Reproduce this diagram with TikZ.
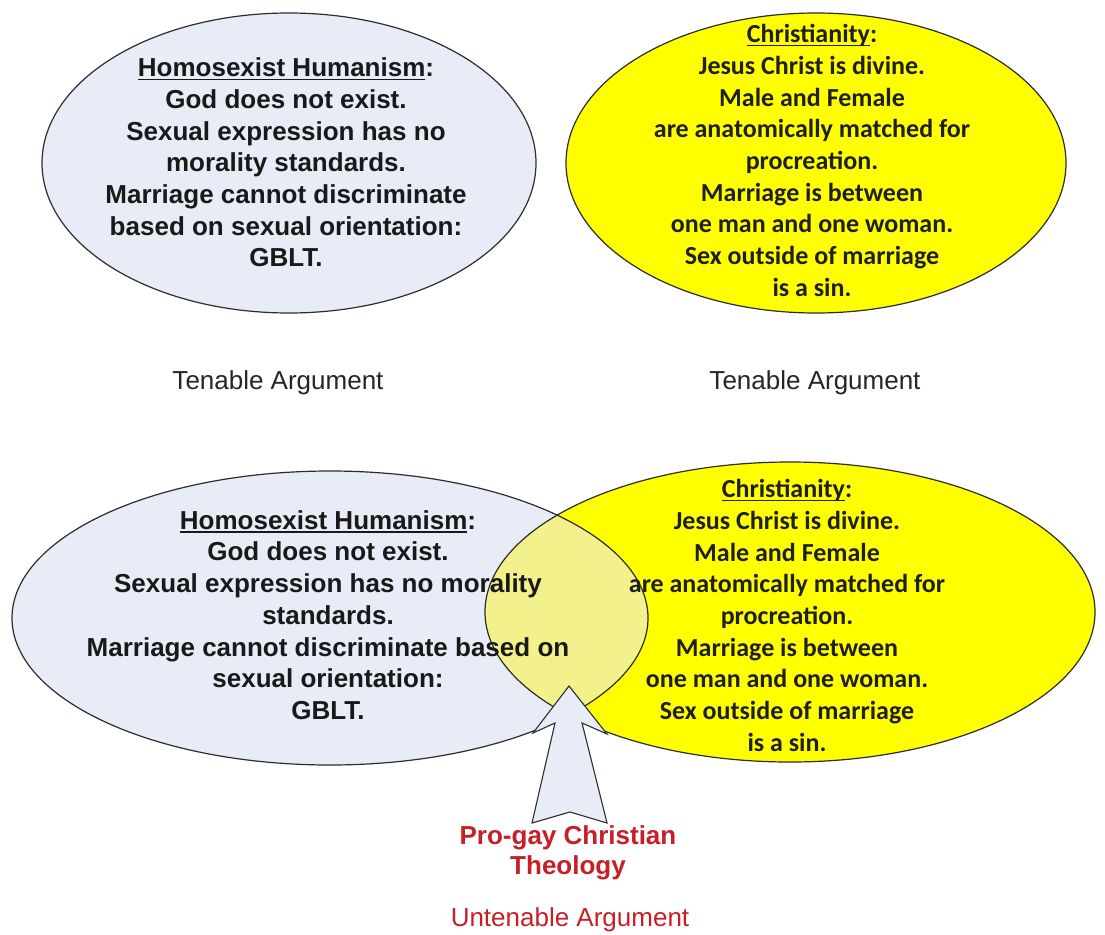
\documentclass[tikz,border=0pt]{standalone}
\usepackage{fontspec}
\setmainfont{Liberation Sans}
\newfontfamily\calibfont{Carlito}
\definecolor{humfill}{RGB}{231,236,246}
\definecolor{chrfill}{RGB}{255,255,0}
\definecolor{overlapfill}{RGB}{242,241,140}
\definecolor{redtxt}{RGB}{200,30,38}
\definecolor{outline}{RGB}{45,45,45}
\newcommand\ulin[1]{\setbox0=\hbox{#1}\rlap{\rule[-3.6pt]{\wd0}{1.6pt}}\box0}
\begin{document}
\begin{tikzpicture}[x=1pt,y=-1pt,
  ell/.style={draw=outline, line width=1.2pt},
  txt/.style={align=center, text=black!90, font=\fontsize{26}{31.7}\selectfont\bfseries, inner sep=0pt},
  ctxt/.style={align=center, text=black!88, font=\calibfont\fontsize{26}{31.7}\selectfont\bfseries, inner sep=0pt},
  lbl/.style={font=\fontsize{26}{30}\selectfont, text=black!85, inner sep=0pt},
  redlbl/.style={align=center, font=\fontsize{26}{30}\selectfont\bfseries, text=redtxt, inner sep=0pt},
  redplain/.style={font=\fontsize{26}{30}\selectfont, text=redtxt, inner sep=0pt},
  blockarrow/.style={draw=outline, line width=1.1pt, fill=humfill, line join=miter}
]
\useasboundingbox (0,0) rectangle (1105,934);
\fill[white] (0,0) rectangle (1105,934);

% ---- top row ----
\fill[humfill] (289,163) ellipse [x radius=247, y radius=150];
\draw[ell] (289,163) ellipse [x radius=247, y radius=150];
\fill[chrfill] (816,163) ellipse [x radius=250, y radius=150];
\draw[ell] (816,163) ellipse [x radius=250, y radius=150];

\node[txt] (hum1) at (286,162.5) {\ulin{Homosexist Humanism}:\\God does not exist.\\Sexual expression has no\\morality standards.\\Marriage cannot discriminate\\based on sexual orientation:\\GBLT.};
\node[ctxt] (chr1) at (812,160.5) {\ulin{Christianity}:\\Jesus Christ is divine.\\Male and Female\\are anatomically matched for\\procreation.\\Marriage is between\\one man and one woman.\\Sex outside of marriage\\is a sin.};

\node[lbl] (ten1) at (278,383) {Tenable Argument};
\node[lbl] (ten2) at (815,383) {Tenable Argument};

% ---- bottom row ----
\fill[humfill] (330,618) ellipse [x radius=318, y radius=147];
\fill[chrfill] (790,612) ellipse [x radius=305, y radius=150];
\begin{scope}
  \clip (330,618) ellipse [x radius=318, y radius=147];
  \fill[overlapfill] (790,612) ellipse [x radius=305, y radius=150];
\end{scope}
\draw[ell] (330,618) ellipse [x radius=318, y radius=147];
\draw[ell] (790,612) ellipse [x radius=305, y radius=150];

\node[txt] (hum2) at (328,615) {\ulin{Homosexist Humanism}:\\God does not exist.\\Sexual expression has no morality\\standards.\\Marriage cannot discriminate based on\\sexual orientation:\\GBLT.};
\node[ctxt] (chr2) at (787,615.5) {\ulin{Christianity}:\\Jesus Christ is divine.\\Male and Female\\are anatomically matched for\\procreation.\\Marriage is between\\one man and one woman.\\Sex outside of marriage\\is a sin.};

% ---- block arrow ----
\draw[blockarrow] (569,686) -- (607,734) -- (582,723) -- (607,823) -- (570,812)
  -- (532,823) -- (555,723) -- (533,733) -- cycle;

\node[redlbl] (pro) at (568,853) {Pro-gay Christian\\Theology};
\node[redplain] (unt) at (570,920) {Untenable Argument};
\end{tikzpicture}
\end{document}
